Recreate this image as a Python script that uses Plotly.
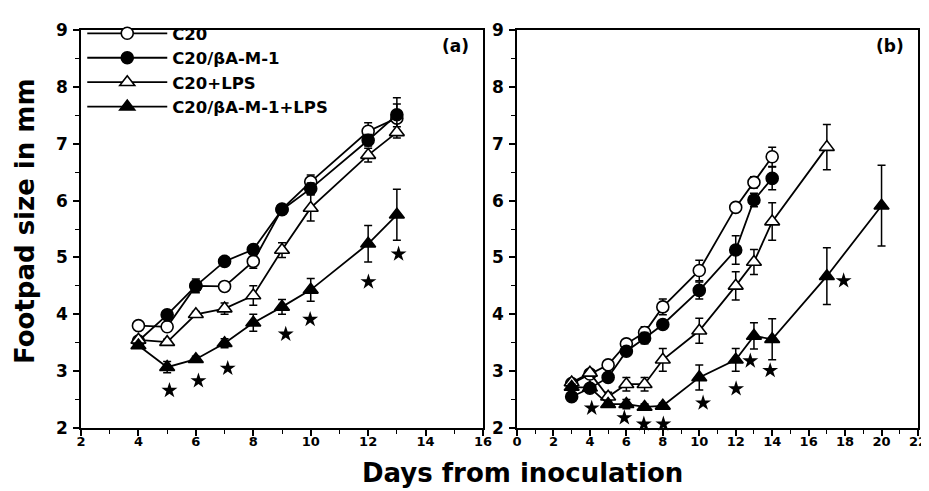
import plotly.graph_objects as go

# ---------------- data: panel (a) ----------------
days_a = [4, 5, 6, 7, 8, 9, 10, 12, 13]
c20_a = [3.80, 3.78, 4.50, 4.49, 4.93, 5.85, 6.33, 7.22, 7.45]
c20_a_err = [0.05, 0.05, 0.05, 0.08, 0.12, 0.05, 0.12, 0.15, 0.25]
bam_a = [3.53, 3.99, 4.50, 4.93, 5.14, 5.84, 6.21, 7.06, 7.51]
bam_a_err = [0.05, 0.05, 0.12, 0.05, 0.05, 0.06, 0.10, 0.10, 0.30]
lps_a = [3.55, 3.51, 4.00, 4.10, 4.33, 5.13, 5.87, 6.80, 7.20]
lps_a_err = [0.05, 0.05, 0.05, 0.10, 0.17, 0.13, 0.23, 0.12, 0.10]
bamlps_a = [3.45, 3.07, 3.21, 3.49, 3.85, 4.13, 4.43, 5.24, 5.75]
bamlps_a_err = [0.03, 0.10, 0.05, 0.08, 0.15, 0.13, 0.20, 0.32, 0.45]
star_a_x = [5.08, 6.09, 7.11, 9.13, 9.98, 12.01, 13.06]
star_a_y = [2.66, 2.83, 3.05, 3.65, 3.91, 4.57, 5.06]

# ---------------- data: panel (b) ----------------
days_b_c = [3, 4, 5, 6, 7, 8, 10, 12, 13, 14]
c20_b = [2.78, 2.95, 3.11, 3.48, 3.68, 4.13, 4.77, 5.88, 6.32, 6.77]
c20_b_err = [0.05, 0.05, 0.05, 0.05, 0.10, 0.14, 0.18, 0.05, 0.10, 0.17]
bam_b = [2.55, 2.70, 2.89, 3.35, 3.58, 3.82, 4.42, 5.13, 6.01, 6.39]
bam_b_err = [0.05, 0.05, 0.05, 0.05, 0.10, 0.06, 0.15, 0.25, 0.12, 0.20]
days_b_l = [3, 4, 5, 6, 7, 8, 10, 12, 13, 14, 17]
lps_b = [2.80, 2.97, 2.55, 2.77, 2.77, 3.20, 3.71, 4.50, 4.92, 5.63, 6.94]
lps_b_err = [0.05, 0.05, 0.08, 0.12, 0.12, 0.20, 0.22, 0.25, 0.22, 0.33, 0.40]
days_b_bl = [3, 4, 5, 6, 7, 8, 10, 12, 13, 14, 17, 20]
bamlps_b = [2.72, 2.71, 2.42, 2.42, 2.37, 2.39, 2.89, 3.20, 3.62, 3.56, 4.67, 5.91]
bamlps_b_err = [0.05, 0.05, 0.05, 0.08, 0.05, 0.05, 0.22, 0.20, 0.23, 0.36, 0.50, 0.71]
star_b_x = [4.10, 5.89, 6.96, 8.03, 10.21, 12.02, 12.80, 13.89, 17.92]
star_b_y = [2.35, 2.18, 2.07, 2.07, 2.44, 2.69, 3.18, 3.01, 4.59]

names = ["C20", "C20/βA-M-1", "C20+LPS", "C20/βA-M-1+LPS"]
symbols = ["circle", "circle", "triangle-up", "triangle-up"]
fills = ["white", "black", "white", "black"]

FONT = "DejaVu Sans, Liberation Sans, Arial, sans-serif"
fig = go.Figure()


def add_series(x, y, err, i, xa, ya, show):
    fig.add_trace(go.Scatter(
        x=x, y=y, mode="lines+markers", name=names[i], showlegend=show,
        xaxis=xa, yaxis=ya,
        line=dict(color="black", width=1.8),
        marker=dict(symbol=symbols[i], size=12 if "circle" in symbols[i] else 13,
                    color=fills[i], line=dict(color="black", width=1.6)),
        error_y=dict(type="data", array=err, visible=True, color="black",
                     thickness=1.5, width=4),
        cliponaxis=False,
    ))


# panel (a)
add_series(days_a, c20_a, c20_a_err, 0, "x", "y", True)
add_series(days_a, bam_a, bam_a_err, 1, "x", "y", True)
add_series(days_a, lps_a, lps_a_err, 2, "x", "y", True)
add_series(days_a, bamlps_a, bamlps_a_err, 3, "x", "y", True)
# panel (b)
add_series(days_b_c, c20_b, c20_b_err, 0, "x2", "y2", False)
add_series(days_b_c, bam_b, bam_b_err, 1, "x2", "y2", False)
add_series(days_b_l, lps_b, lps_b_err, 2, "x2", "y2", False)
add_series(days_b_bl, bamlps_b, bamlps_b_err, 3, "x2", "y2", False)

# significance stars
for sx, sy, xa, ya in [(star_a_x, star_a_y, "x", "y"), (star_b_x, star_b_y, "x2", "y2")]:
    fig.add_trace(go.Scatter(
        x=sx, y=sy, mode="markers", showlegend=False, xaxis=xa, yaxis=ya,
        marker=dict(symbol="star", size=12, color="black"), cliponaxis=False,
    ))

minor_common = dict(ticks="outside", ticklen=4, tickwidth=1.2, tickcolor="black")
axis_common = dict(
    showline=True, linecolor="black", linewidth=1.5, mirror=True,
    ticks="outside", ticklen=6, tickwidth=1.5, tickcolor="black",
    showgrid=False, zeroline=False, automargin=False, ticklabeloverflow="allow",
)
xfont = dict(family=FONT, size=13, color="black", weight="bold")
yfont = dict(family=FONT, size=17, color="black", weight="bold")

# the page body has an 8px default margin; figure is sized so that it fills 929x491
fig.update_layout(
    template="none",
    width=921, height=483,
    margin=dict(l=73, r=11, t=8, b=63),
    paper_bgcolor="white", plot_bgcolor="white",
    font=dict(family=FONT, color="black"),
    xaxis=dict(domain=[0, 0.4803], range=[2, 16], dtick=2, tickfont=xfont,
               ticklabelstandoff=-5,
               minor=dict(dtick=1, **minor_common), **axis_common),
    yaxis=dict(range=[2, 9], dtick=1, tickfont=yfont, ticklabelstandoff=2,
               minor=dict(dtick=0.5, **minor_common), **axis_common),
    xaxis2=dict(domain=[0.5209, 1], range=[0, 22], dtick=2, anchor="y2", tickfont=xfont,
                ticklabelstandoff=-5,
                minor=dict(dtick=1, **minor_common), **axis_common),
    yaxis2=dict(range=[2, 9], dtick=1, anchor="x2", tickfont=yfont, ticklabelstandoff=2,
                minor=dict(dtick=0.5, **minor_common), **axis_common),
    showlegend=True,
    legend=dict(x=0.0015, y=1.035, xanchor="left", yanchor="top",
                bgcolor="rgba(0,0,0,0)", itemwidth=80, borderwidth=0,
                font=dict(family=FONT, size=16.5, color="black", weight="bold"),
                tracegroupgap=0),
    annotations=[
        dict(text="Footpad size in mm", textangle=-90, xref="paper", yref="paper",
             x=-0.0669, y=0.52, xanchor="center", yanchor="middle", showarrow=False,
             font=dict(family=FONT, size=26, color="black", weight="bold")),
        dict(text="Days from inoculation", xref="paper", yref="paper",
             x=0.527, y=-0.112, xanchor="center", yanchor="middle", showarrow=False,
             font=dict(family=FONT, size=26, color="black", weight="bold")),
        dict(text="(a)", xref="x domain", yref="y domain", x=0.97, y=0.99,
             xanchor="right", yanchor="top", showarrow=False,
             font=dict(family=FONT, size=17, color="black", weight="bold")),
        dict(text="(b)", xref="x2 domain", yref="y2 domain", x=0.97, y=0.99,
             xanchor="right", yanchor="top", showarrow=False,
             font=dict(family=FONT, size=17, color="black", weight="bold")),
    ],
)

fig.write_html("out.html")
